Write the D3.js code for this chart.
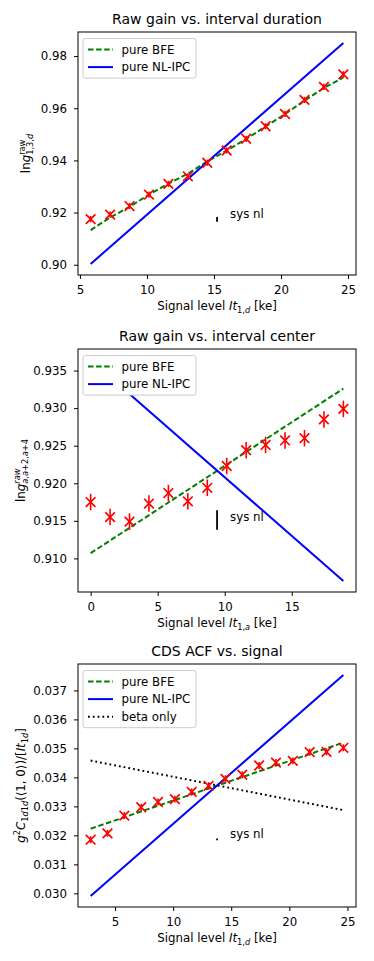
<!DOCTYPE html>
<html>
<head>
<meta charset="utf-8">
<script src="https://cdn.jsdelivr.net/npm/d3@7"></script>
<style>
  body { margin: 0; background: #fff; }
  svg text { font-family: "DejaVu Sans", sans-serif; fill: #000; white-space: pre; }
</style>
</head>
<body>
<div id="chart"></div>
<script>
// panel 1: raw gain vs interval duration
const xDur = [5.8, 7.25, 8.7, 10.15, 11.6, 13.05, 14.5, 15.95, 17.4, 18.85, 20.3, 21.75, 23.2, 24.65]
const gainDur = [0.9175, 0.9192, 0.9225, 0.9269, 0.9310, 0.9339, 0.9391, 0.9438, 0.9483, 0.9531, 0.9578, 0.9632, 0.9682, 0.9730]
const gainDurErr = [0.0012, 0.0012, 0.0012, 0.0012, 0.0012, 0.0012, 0.0012, 0.0012, 0.0012, 0.0012, 0.0012, 0.0012, 0.0012, 0.0012]
const bfeDur = [0.9133, 0.9181, 0.9222, 0.9269, 0.9311, 0.9349, 0.9396, 0.9438, 0.9482, 0.9530, 0.9578, 0.9629, 0.9678, 0.9718]
const ipcDurX = [5.8, 24.65]
const ipcDur = [0.9003, 0.9850]
const sysDur = {x: 15.23, y: 0.9174, err: 0.0009}
const xTicksDur = [5, 10, 15, 20, 25]
const yTicksDur = [0.90, 0.92, 0.94, 0.96, 0.98]

// panel 2: raw gain vs interval center
const xCen = [0, 1.45, 2.9, 4.35, 5.8, 7.25, 8.7, 10.15, 11.6, 13.05, 14.5, 15.95, 17.4, 18.85]
const gainCen = [0.9175, 0.9155, 0.9149, 0.9173, 0.9187, 0.9176, 0.9194, 0.9223, 0.9244, 0.9251, 0.9257, 0.9260, 0.9285, 0.9299]
const gainCenErr = [0.0011, 0.0011, 0.0011, 0.0011, 0.0011, 0.0011, 0.0011, 0.0011, 0.0011, 0.0011, 0.0011, 0.0011, 0.0011, 0.0011]
const lineCenX = [0, 18.85]
const bfeCen = [0.9107, 0.9326]
const ipcCen = [0.9364, 0.9070]
const sysCen = {x: 9.43, y: 0.9151, err: 0.0013}
const xTicksCen = [0, 5, 10, 15]
const yTicksCen = [0.910, 0.915, 0.920, 0.925, 0.930, 0.935]

// panel 3: CDS ACF vs signal
const xAcf = [2.9, 4.35, 5.8, 7.25, 8.7, 10.15, 11.6, 13.05, 14.5, 15.95, 17.4, 18.85, 20.3, 21.75, 23.2, 24.65]
const acf = [0.03185, 0.03207, 0.03268, 0.03297, 0.03315, 0.03325, 0.03350, 0.03371, 0.03395, 0.03409, 0.03441, 0.03451, 0.03457, 0.03487, 0.03488, 0.03502]
const acfErr = [0.00012, 0.00012, 0.00012, 0.00012, 0.00012, 0.00012, 0.00012, 0.00012, 0.00012, 0.00012, 0.00012, 0.00012, 0.00012, 0.00012, 0.00012, 0.00012]
const lineAcfX = [2.9, 24.65]
const bfeAcf = [0.03223, 0.03520]
const ipcAcf = [0.02991, 0.03753]
const betaAcf = [0.03458, 0.03287]
const sysAcf = {x: 13.78, y: 0.03186, err: 0.00003}
const xTicksAcf = [5, 10, 15, 20, 25]
const yTicksAcf = [0.030, 0.031, 0.032, 0.033, 0.034, 0.035, 0.036, 0.037]

const width = 374
const height = 961
const left = 78
const right = 356
const axH = 243
const fs = 11.8

const svg = d3.select("#chart").append("svg")
  .attr("width", width)
  .attr("height", height)

svg.append("rect").attr("width", width).attr("height", height).attr("fill", "#fff")

// draws pieces of mathtext-like label side by side, returns total width
function richText(parent, parts, size) {
  let x = 0
  let prevStart = 0
  parts.forEach(p => {
    let small = p.level ? size * 0.7 : size
    let dy = p.level === "sup" ? -size * 0.42 : p.level === "sub" ? size * 0.24 : 0
    let start = p.stack ? prevStart : x
    let t = parent.append("text")
      .attr("x", start)
      .attr("y", dy)
      .style("font-size", small + "px")
    p.segs.forEach(s => {
      t.append("tspan").style("font-style", s[1] ? "italic" : "normal").text(s[0])
    })
    let w = t.node().getComputedTextLength()
    if (p.stack) {
      x = Math.max(x, start + w)
    } else {
      prevStart = start
      x = start + w
    }
  })
  return x
}

function padded(ext) {
  let d = ext[1] - ext[0]
  return [ext[0] - 0.05 * d, ext[1] + 0.05 * d]
}

function panel(cfg) {
  let top = cfg.top
  let bottom = top + axH
  let x = d3.scaleLinear().domain(padded(d3.extent(cfg.xAll))).range([left, right])
  let y = d3.scaleLinear().domain(padded(d3.extent(cfg.yAll))).range([bottom, top])

  let g = svg.append("g")

  let clipId = "clip" + top
  g.append("clipPath").attr("id", clipId)
    .append("rect").attr("x", left).attr("y", top).attr("width", right - left).attr("height", axH)

  let plot = g.append("g").attr("clip-path", "url(#" + clipId + ")")
  let line = d3.line().x(d => x(d[0])).y(d => y(d[1]))

  cfg.lines.forEach(l => {
    plot.append("path")
      .datum(d3.zip(l.x, l.y))
      .attr("d", line)
      .attr("fill", "none")
      .attr("stroke", l.color)
      .attr("stroke-width", l.width)
      .attr("stroke-dasharray", l.dash)
      .attr("stroke-linecap", l.cap)
  })

  // error bars and x markers
  let pts = d3.zip(cfg.px, cfg.py, cfg.pe)
  plot.selectAll(".eb").data(pts).enter().append("line")
    .attr("x1", d => x(d[0])).attr("x2", d => x(d[0]))
    .attr("y1", d => y(d[1] - d[2])).attr("y2", d => y(d[1] + d[2]))
    .attr("stroke", "#ff0000").attr("stroke-width", 1.6)
  let m = 4.8
  plot.selectAll(".mk").data(pts).enter().append("path")
    .attr("d", d => {
      let cx = x(d[0]), cy = y(d[1])
      return "M" + (cx - m) + "," + (cy - m) + "L" + (cx + m) + "," + (cy + m) +
        "M" + (cx - m) + "," + (cy + m) + "L" + (cx + m) + "," + (cy - m)
    })
    .attr("stroke", "#ff0000").attr("stroke-width", 1.7).attr("fill", "none")

  // sys nl bar
  let s = cfg.sys
  plot.append("line")
    .attr("x1", x(s.x)).attr("x2", x(s.x))
    .attr("y1", Math.max(y(s.y - s.err), y(s.y) + 0.6)).attr("y2", Math.min(y(s.y + s.err), y(s.y) - 0.6))
    .attr("stroke", "#000").attr("stroke-width", 1.8)
  g.append("text")
    .attr("x", x(s.x) + 13)
    .attr("y", y(s.y) + cfg.sysDy)
    .style("font-size", fs + "px")
    .text("sys nl")

  // axes
  let xa = g.append("g")
    .attr("transform", "translate(0," + bottom + ")")
    .call(d3.axisBottom(x).tickValues(cfg.xTicks).tickSize(4).tickPadding(6.5).tickFormat(d3.format("d")))
  let ya = g.append("g")
    .attr("transform", "translate(" + left + ",0)")
    .call(d3.axisLeft(y).tickValues(cfg.yTicks).tickSize(4).tickPadding(7).tickFormat(d3.format(cfg.yFmt)))
  ;[xa, ya].forEach(a => {
    a.select(".domain").remove()
    a.selectAll("text").style("font-size", fs + "px").attr("font-family", null)
    a.selectAll("line").attr("stroke", "#000")
  })

  g.append("rect")
    .attr("x", left).attr("y", top).attr("width", right - left).attr("height", axH)
    .attr("fill", "none").attr("stroke", "#000").attr("stroke-width", 1)

  // title
  g.append("text")
    .attr("x", (left + right) / 2)
    .attr("y", top - 8)
    .attr("text-anchor", "middle")
    .style("font-size", "14px")
    .text(cfg.title)

  // x label
  let xl = g.append("g")
  let xw = richText(xl, cfg.xLabel, fs)
  xl.attr("transform", "translate(" + ((left + right) / 2 - xw / 2) + "," + (bottom + 35) + ")")

  // y label
  let yl = g.append("g")
  let inner = yl.append("g")
  let yw = richText(inner, cfg.yLabel, fs)
  inner.attr("transform", "translate(" + (-yw / 2) + ",0)")
  yl.attr("transform", "translate(" + cfg.yLabelX + "," + (top + axH / 2) + ") rotate(-90)")

  // legend
  let lx = left + 5
  let ly = top + 6.5
  let lh = 22 + (cfg.legend.length - 1) * 17.6
  g.append("rect")
    .attr("x", lx).attr("y", ly).attr("width", 113).attr("height", lh)
    .attr("rx", 2.5)
    .attr("fill", "#fff")
    .attr("stroke", "#cccccc").attr("stroke-width", 1)
  cfg.legend.forEach((l, i) => {
    let cy = ly + 11 + i * 17.6
    g.append("line")
      .attr("x1", lx + 5).attr("x2", lx + 30)
      .attr("y1", cy).attr("y2", cy)
      .attr("stroke", l.color).attr("stroke-width", l.width)
      .attr("stroke-dasharray", l.dash)
      .attr("stroke-linecap", l.cap)
    g.append("text")
      .attr("x", lx + 38.5)
      .attr("y", cy + 4.2)
      .style("font-size", fs + "px")
      .text(l.label)
  })
}

const bfeStyle = {color: "#008000", width: 2, dash: "5.5,2.6", cap: "butt"}
const ipcStyle = {color: "#0000ff", width: 2, dash: null, cap: "butt"}
const betaStyle = {color: "#000000", width: 2, dash: "1.8,3", cap: "butt"}

panel({
  top: 32,
  title: "Raw gain vs. interval duration",
  xAll: xDur,
  yAll: ipcDur.concat(gainDur, bfeDur),
  lines: [
    Object.assign({x: xDur, y: bfeDur}, bfeStyle),
    Object.assign({x: ipcDurX, y: ipcDur}, ipcStyle)
  ],
  px: xDur, py: gainDur, pe: gainDurErr,
  sys: sysDur, sysDy: -1,
  xTicks: xTicksDur, yTicks: yTicksDur, yFmt: ".2f",
  xLabel: [
    {segs: [["Signal level ", false], ["It", true]]},
    {segs: [["1,", false], ["d", true]], level: "sub"},
    {segs: [["\u00A0[ke]", false]]}
  ],
  yLabel: [
    {segs: [["ln", false], ["g", true]]},
    {segs: [["raw", false]], level: "sup"},
    {segs: [["1,3,", false], ["d", true]], level: "sub", stack: true}
  ],
  yLabelX: 30,
  legend: [
    Object.assign({label: "pure BFE"}, bfeStyle),
    Object.assign({label: "pure NL-IPC"}, ipcStyle)
  ]
})

panel({
  top: 349,
  title: "Raw gain vs. interval center",
  xAll: xCen,
  yAll: ipcCen.concat(bfeCen, gainCen),
  lines: [
    Object.assign({x: lineCenX, y: bfeCen}, bfeStyle),
    Object.assign({x: lineCenX, y: ipcCen}, ipcStyle)
  ],
  px: xCen, py: gainCen, pe: gainCenErr,
  sys: sysCen, sysDy: 1,
  xTicks: xTicksCen, yTicks: yTicksCen, yFmt: ".3f",
  xLabel: [
    {segs: [["Signal level ", false], ["It", true]]},
    {segs: [["1,", false], ["a", true]], level: "sub"},
    {segs: [["\u00A0[ke]", false]]}
  ],
  yLabel: [
    {segs: [["ln", false], ["g", true]]},
    {segs: [["raw", true]], level: "sup"},
    {segs: [["a", true], [",", false], ["a", true], ["+2,", false], ["a", true], ["+4", false]], level: "sub", stack: true}
  ],
  yLabelX: 25,
  legend: [
    Object.assign({label: "pure BFE"}, bfeStyle),
    Object.assign({label: "pure NL-IPC"}, ipcStyle)
  ]
})

panel({
  top: 664,
  title: "CDS ACF vs. signal",
  xAll: xAcf,
  yAll: ipcAcf.concat(bfeAcf, betaAcf, acf),
  lines: [
    Object.assign({x: lineAcfX, y: bfeAcf}, bfeStyle),
    Object.assign({x: lineAcfX, y: ipcAcf}, ipcStyle),
    Object.assign({x: lineAcfX, y: betaAcf}, betaStyle)
  ],
  px: xAcf, py: acf, pe: acfErr,
  sys: sysAcf, sysDy: -1,
  xTicks: xTicksAcf, yTicks: yTicksAcf, yFmt: ".3f",
  xLabel: [
    {segs: [["Signal level ", false], ["It", true]]},
    {segs: [["1,", false], ["d", true]], level: "sub"},
    {segs: [["\u00A0[ke]", false]]}
  ],
  yLabel: [
    {segs: [["g", true]]},
    {segs: [["2", false]], level: "sup"},
    {segs: [["C", true]]},
    {segs: [["1", false], ["d", true], ["1", false], ["d", true]], level: "sub"},
    {segs: [["(\u27E81, 0\u27E9)/[", false], ["It", true]]},
    {segs: [["1", false], ["d", true]], level: "sub"},
    {segs: [["]", false]]}
  ],
  yLabelX: 25,
  legend: [
    Object.assign({label: "pure BFE"}, bfeStyle),
    Object.assign({label: "pure NL-IPC"}, ipcStyle),
    Object.assign({label: "beta only"}, betaStyle)
  ]
})
</script>
</body>
</html>
